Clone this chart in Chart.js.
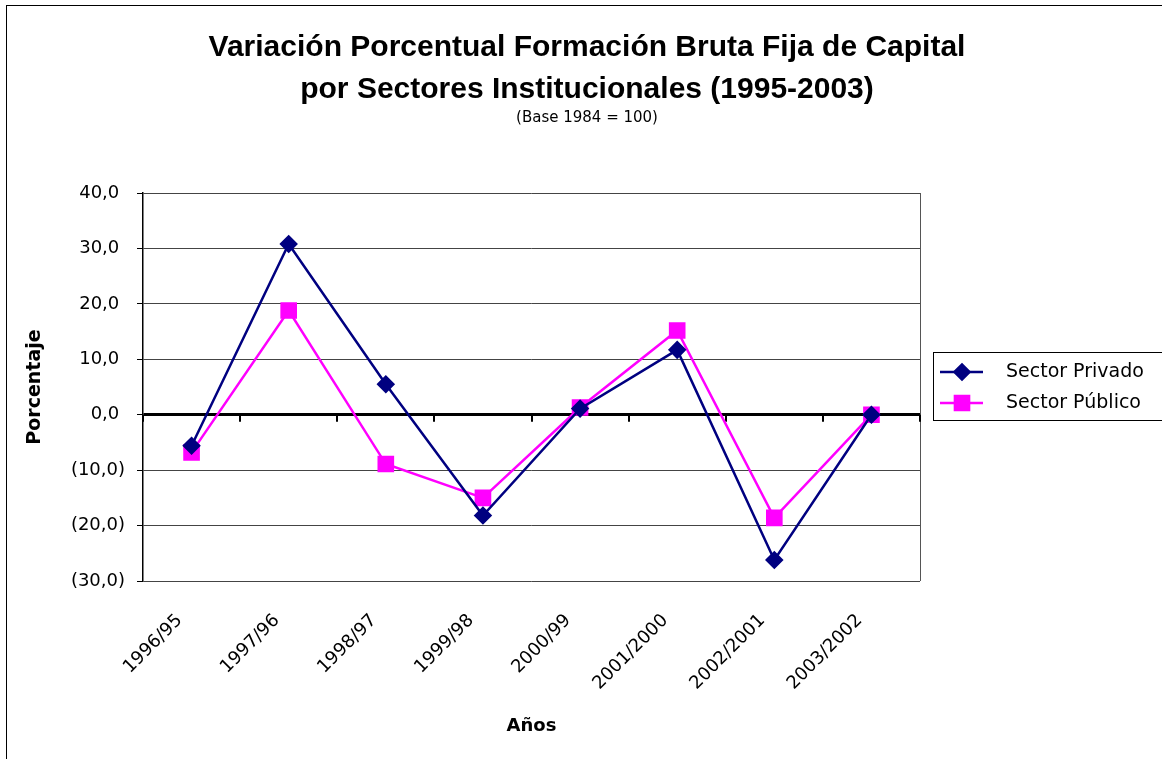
<!DOCTYPE html>
<html>
<head>
<meta charset="utf-8">
<script src="https://cdn.jsdelivr.net/npm/chart.js@4/dist/chart.umd.min.js"></script>
<style>
  html, body { margin: 0; padding: 0; background: #fff; overflow: hidden; }
  #wrap { position: absolute; left: 0; top: 0; width: 1174px; height: 759px; }
</style>
</head>
<body>
<div id="wrap"><canvas id="grafico"></canvas></div>
<script>
// Datos
const anios = ['1996/95', '1997/96', '1998/97', '1999/98', '2000/99', '2001/2000', '2002/2001', '2003/2002'];
const sectorPrivado = [-5.6, 30.8, 5.5, -18.2, 1.1, 11.7, -26.2, 0.0];
const sectorPublico = [-6.8, 18.8, -8.9, -15.0, 1.3, 15.2, -18.6, 0.0];
const etiquetasY = ['(30,0)', '(20,0)', '(10,0)', '0,0 ', '10,0 ', '20,0 ', '30,0 ', '40,0 '];

const FUENTE = '"DejaVu Sans", "Liberation Sans", Arial, sans-serif';
const FUENTE_TITULO = '"Liberation Sans", Arial, sans-serif';

// Borde exterior, borde derecho del area, marcas sobre el eje cero y leyenda
const decoraciones = {
    id: 'decoraciones',
    beforeDatasetsDraw(chart) {
        const ctx = chart.ctx;
        const area = chart.chartArea;
        const x = chart.scales.x;
        const y = chart.scales.y;
        ctx.save();
        ctx.strokeStyle = '#555';
        ctx.lineWidth = 1;
        ctx.beginPath();
        ctx.moveTo(area.right + 0.5, area.top);
        ctx.lineTo(area.right + 0.5, area.bottom);
        ctx.stroke();

        // marcas de categoria sobre la linea cero
        const y0 = y.getPixelForValue(0);
        const paso = x.getPixelForValue(1) - x.getPixelForValue(0);
        ctx.strokeStyle = '#000';
        ctx.lineWidth = 2;
        for (let i = 0; i <= anios.length; i++) {
            const px = Math.round(x.getPixelForValue(i) - paso / 2);
            ctx.beginPath();
            ctx.moveTo(px, y0);
            ctx.lineTo(px, y0 + 7);
            ctx.stroke();
        }
        ctx.restore();
    },
    afterDraw(chart) {
        const ctx = chart.ctx;
        ctx.save();
        ctx.strokeStyle = '#000';
        ctx.lineWidth = 1;
        ctx.strokeRect(6.5, 5.5, 1200, 800);

        // leyenda
        ctx.strokeRect(933.5, 352.5, 240, 68);
        const filas = [372, 403];
        chart.data.datasets.forEach((ds, i) => {
            const cy = filas[i];
            ctx.strokeStyle = ds.borderColor;
            ctx.lineWidth = 2.5;
            ctx.beginPath();
            ctx.moveTo(940, cy);
            ctx.lineTo(983, cy);
            ctx.stroke();
            Chart.helpers.drawPoint(ctx, {
                pointStyle: ds.pointStyle,
                radius: ds.pointRadius,
                borderWidth: 1
            }, 962, cy);
            ctx.fillStyle = ds.pointBackgroundColor;
            ctx.fill();
            ctx.fillStyle = '#000';
            ctx.font = '19px ' + FUENTE;
            ctx.textBaseline = 'middle';
            ctx.textAlign = 'left';
            ctx.fillText(ds.label, 1006, cy);
        });
        ctx.restore();
    }
};

const ctx = document.getElementById('grafico').getContext('2d');
const grafico = new Chart(ctx, {
    type: 'line',
    data: {
        labels: anios,
        datasets: [
            {
                label: 'Sector Privado',
                data: sectorPrivado,
                borderColor: '#000080',
                backgroundColor: '#000080',
                pointBackgroundColor: '#000080',
                pointBorderColor: '#000080',
                borderWidth: 2.5,
                pointStyle: 'rectRot',
                pointRadius: 7.5,
                pointHoverRadius: 7.5,
                tension: 0
            },
            {
                label: 'Sector Público',
                data: sectorPublico,
                borderColor: '#FF00FF',
                backgroundColor: '#FF00FF',
                pointBackgroundColor: '#FF00FF',
                pointBorderColor: '#FF00FF',
                borderWidth: 2.5,
                pointStyle: 'rect',
                pointRadius: 10,
                pointHoverRadius: 10,
                tension: 0
            }
        ]
    },
    options: {
        responsive: true,
        maintainAspectRatio: false,
        animation: false,
        layout: { padding: 0 },
        plugins: {
            legend: { display: false },
            tooltip: { enabled: false },
            title: {
                display: true,
                text: ['Variación Porcentual Formación Bruta Fija de Capital', 'por Sectores Institucionales (1995-2003)'],
                color: '#000',
                font: { family: FUENTE_TITULO, size: 30, weight: 'bold', lineHeight: 1.4 },
                padding: { top: 27, bottom: 0 }
            },
            subtitle: {
                display: true,
                text: '(Base 1984 = 100)',
                color: '#000',
                font: { family: FUENTE, size: 15, lineHeight: 1.0 },
                padding: { top: 0, bottom: 67 }
            }
        },
        scales: {
            x: {
                offset: true,
                grid: { display: false },
                border: { display: false },
                ticks: {
                    color: '#000',
                    font: { family: FUENTE, size: 18 },
                    minRotation: 45,
                    maxRotation: 45,
                    autoSkip: false,
                    padding: 21,
                    labelOffset: -12
                },
                title: {
                    display: true,
                    text: 'Años',
                    color: '#000',
                    font: { family: FUENTE, size: 18, weight: 'bold', lineHeight: 1.2 },
                    padding: { top: 0, bottom: 22 }
                },
                afterFit: function(scale) { scale.height = 178; }
            },
            y: {
                min: -30,
                max: 40,
                ticks: {
                    stepSize: 10,
                    color: '#000',
                    font: { family: FUENTE, size: 18 },
                    padding: 12,
                    callback: function(value, index) {
                        return etiquetasY[index];
                    }
                },
                grid: {
                    color: function(c) { return c.tick && c.tick.value === 0 ? '#000' : '#444'; },
                    lineWidth: function(c) { return c.tick && c.tick.value === 0 ? 3 : 1; },
                    tickLength: 6,
                    tickColor: '#000',
                    tickWidth: 1
                },
                border: { display: true, color: '#000', width: 1.5 },
                title: {
                    display: true,
                    text: 'Porcentaje',
                    color: '#000',
                    font: { family: FUENTE, size: 19, weight: 'bold', lineHeight: 1.2 },
                    padding: { top: 24, bottom: 0 }
                },
                afterFit: function(scale) { scale.width = 143; }
            },
            // espacio reservado para la leyenda (no se dibuja nada)
            espacio: {
                type: 'linear',
                position: 'right',
                display: true,
                grid: { display: false },
                border: { display: false },
                ticks: { display: false },
                afterFit: function(scale) { scale.width = 254; }
            }
        }
    },
    plugins: [decoraciones]
});
</script>
</body>
</html>
